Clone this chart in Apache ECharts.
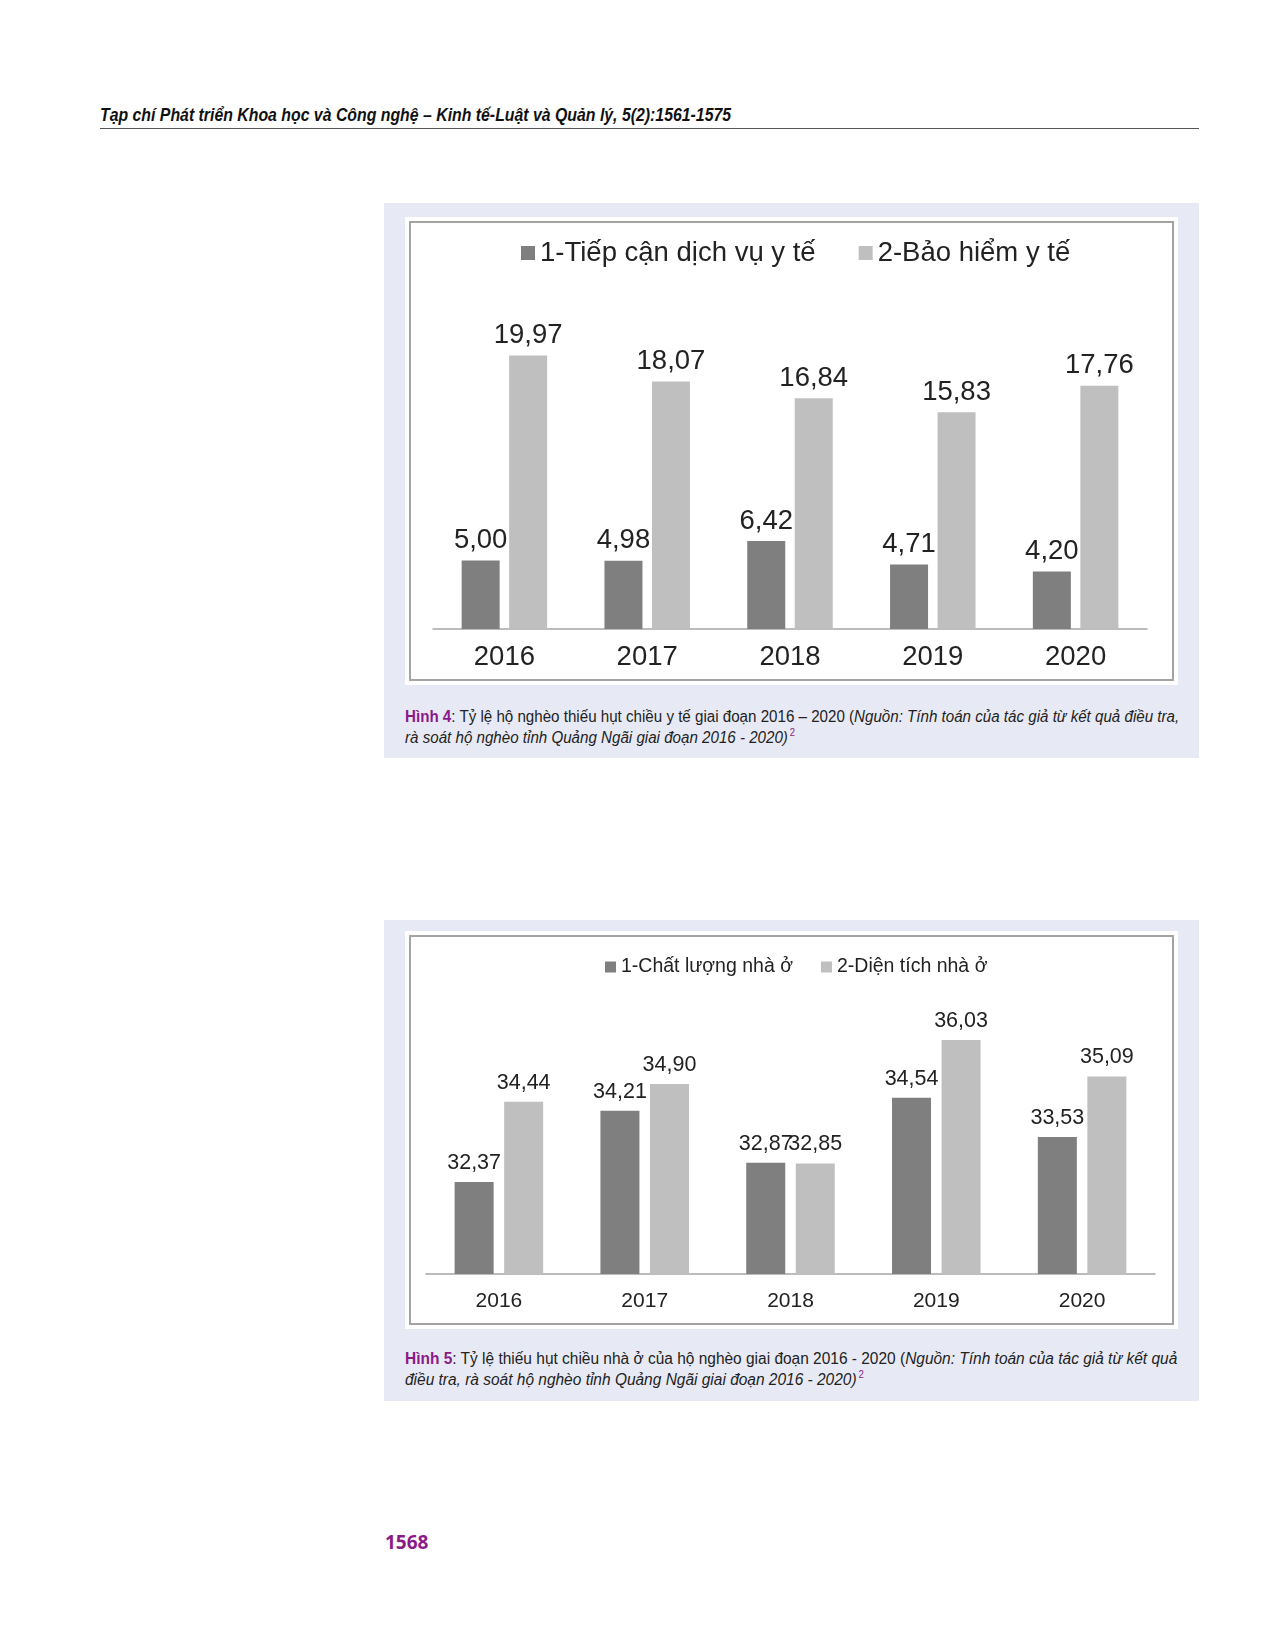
<!DOCTYPE html>
<html>
<head>
<meta charset="utf-8">
<script src="https://cdn.jsdelivr.net/npm/echarts@6/dist/echarts.min.js"></script>
<style>
  html, body { margin:0; padding:0; background:#fff; }
  body { width:1276px; height:1649px; position:relative; overflow:hidden; }
  .hdr { position:absolute; left:100px; top:105px; font-family:"Liberation Sans",sans-serif; font-weight:bold; font-style:italic; font-size:18px; color:#111; white-space:nowrap; transform:scaleX(0.88); transform-origin:0 0; }
  .rule { position:absolute; left:100px; top:128px; width:1099px; height:0; border-top:1.5px solid #555; }
  .box { position:absolute; left:384px; width:815px; background:#e7eaf5; }
  .frame { position:absolute; left:405px; width:773px; background:#fff; }
  .inner { position:absolute; left:4px; top:4px; right:4px; bottom:4px; border:2px solid #a3a3a3; }
  .chart { position:absolute; left:0; top:0; width:773px; }
  .cap { position:absolute; left:405px; font-family:"Liberation Sans",sans-serif; font-size:16px; line-height:21px; color:#222; white-space:nowrap; transform-origin:0 0; }
  .cap b { color:#8b1a89; }
  .cap .sp { color:#8b1a89; font-size:10px; position:relative; top:-7px; line-height:0; margin-left:2px; }
  .pg { position:absolute; left:385px; top:1529px; font-family:"Open Sans",sans-serif; font-weight:bold; font-size:19px; color:#8b1a89; }
</style>
</head>
<body>
<div class="hdr">Tạp chí Phát triển Khoa học và Công nghệ – Kinh tế-Luật và Quản lý, 5(2):1561-1575</div>
<div class="rule"></div>

<div class="box" style="top:203px;height:555px;"></div>
<div class="frame" style="top:217px;height:468px;">
  <div class="inner"></div>
  <div id="c1" class="chart" style="height:468px;"></div>
</div>
<div class="cap" style="top:706px;transform:scaleX(0.946);"><b>Hình 4</b>: Tỷ lệ hộ nghèo thiếu hụt chiều y tế giai đoạn 2016 – 2020 (<i>Nguồn: Tính toán của tác giả từ kết quả điều tra,</i><br><i>rà soát hộ nghèo tỉnh Quảng Ngãi giai đoạn 2016 - 2020)</i><span class="sp">2</span></div>

<div class="box" style="top:920px;height:481px;"></div>
<div class="frame" style="top:931px;height:398px;">
  <div class="inner"></div>
  <div id="c2" class="chart" style="height:398px;"></div>
</div>
<div class="cap" style="top:1348px;transform:scaleX(0.967);"><b>Hình 5</b>: Tỷ lệ thiếu hụt chiều nhà ở của hộ nghèo giai đoạn 2016 - 2020 (<i>Nguồn: Tính toán của tác giả từ kết quả</i><br><i>điều tra, rà soát hộ nghèo tỉnh Quảng Ngãi giai đoạn 2016 - 2020)</i><span class="sp">2</span></div>

<div class="pg">1568</div>

<script>
const years = ['2016', '2017', '2018', '2019', '2020'];
const seriesNames1 = ['1-Tiếp cận dịch vụ y tế', '2-Bảo hiểm y tế'];
const tiepCanDichVuYTe = [5.00, 4.98, 6.42, 4.71, 4.20];
const baoHiemYTe = [19.97, 18.07, 16.84, 15.83, 17.76];
const seriesNames2 = ['1-Chất lượng nhà ở', '2-Diện tích nhà ở'];
const chatLuongNhaO = [32.37, 34.21, 32.87, 34.54, 33.53];
const dienTichNhaO = [34.44, 34.90, 32.85, 36.03, 35.09];

const DARK = '#7f7f7f', LIGHT = '#bfbfbf';
const fmt = p => p.value.toFixed(2).replace('.', ',');

function makeOption(cfg) {
  const font = cfg.font;
  return {
    animation: false,
    legend: {
      top: cfg.legendTop, left: cfg.legendLeft,
      itemWidth: cfg.sq, itemHeight: cfg.sq, itemGap: cfg.itemGap,
      icon: 'rect',
      textStyle: { fontFamily: font, fontSize: cfg.legendSize, color: '#222' },
      data: cfg.names
    },
    grid: { left: cfg.gl, width: cfg.gw, top: cfg.gt, height: cfg.gh },
    xAxis: {
      type: 'category', data: years,
      axisLine: { lineStyle: { color: '#a6a6a6', width: 1.5 } },
      axisTick: { show: false },
      axisLabel: { fontFamily: font, fontSize: cfg.catSize, color: '#222', margin: cfg.catMargin }
    },
    yAxis: { type: 'value', min: cfg.min, max: cfg.max, show: false, splitLine: { show: false } },
    series: [
      { name: cfg.names[0], type: 'bar', data: cfg.d1, barWidth: cfg.bw, barGap: cfg.gap,
        itemStyle: { color: DARK },
        label: { show: true, position: 'top', distance: cfg.ld, formatter: fmt, fontFamily: font, fontSize: cfg.labSize, color: '#222' } },
      { name: cfg.names[1], type: 'bar', data: cfg.d2, barWidth: cfg.bw,
        itemStyle: { color: LIGHT },
        label: { show: true, position: 'top', distance: cfg.ld, formatter: fmt, fontFamily: font, fontSize: cfg.labSize, color: '#222' } }
    ]
  };
}

const c1 = echarts.init(document.getElementById('c1'));
c1.setOption(makeOption({
  font: '"Liberation Sans", Arial, sans-serif',
  names: seriesNames1, d1: tiepCanDichVuYTe, d2: baoHiemYTe,
  legendTop: 17, legendLeft: 111, sq: 14, itemGap: 43, legendSize: 27.5,
  gl: 28, gw: 714, gt: 69.5, gh: 342.5, min: 0, max: 25,
  catSize: 27.5, catMargin: 14, labSize: 27.5, ld: 6,
  bw: 38, gap: '25%'
}));

const c2 = echarts.init(document.getElementById('c2'));
c2.setOption(makeOption({
  font: '"Liberation Sans", Arial, sans-serif',
  names: seriesNames2, d1: chatLuongNhaO, d2: dienTichNhaO,
  legendTop: 21, legendLeft: 195, sq: 11, itemGap: 28, legendSize: 19.5,
  gl: 21, gw: 729, gt: 71.4, gh: 271.6, min: 30, max: 37,
  catSize: 21, catMargin: 17, labSize: 21.5, ld: 8,
  bw: 39, gap: '27%'
}));
</script>
</body>
</html>
